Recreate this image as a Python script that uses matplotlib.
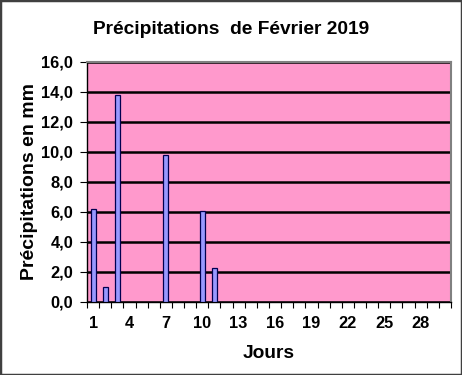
import matplotlib
matplotlib.use("Agg")
import matplotlib.pyplot as plt
from matplotlib.patches import Rectangle
import numpy as np

days = list(range(1, 31))
rain_days = [1, 2, 3, 7, 10, 11]
rain_values = [6.2, 1.0, 13.8, 9.8, 6.1, 2.3]
x_labels = [1, 4, 7, 10, 13, 16, 19, 22, 25, 28]
y_ticks = [0, 2, 4, 6, 8, 10, 12, 14, 16]

plt.rcParams['font.family'] = ['Liberation Sans', 'DejaVu Sans']
plt.rcParams['font.weight'] = 'bold'

fig = plt.figure(figsize=(4.62, 3.75), dpi=100)
fig.patch.set_facecolor('white')
fig.patches.append(Rectangle((0, 0), 1, 1, transform=fig.transFigure,
                             fill=False, edgecolor='#404040', linewidth=2.5))

ax = fig.add_axes([87/462, 1-302/375, (451-87)/462, (302-62)/375])
ax.set_facecolor('#FF99CC')
ax.set_axisbelow(True)
ax.yaxis.grid(True, color='black', linewidth=1.8)

ax.bar(rain_days, rain_values, width=0.42, color='#9999FF', edgecolor='#000050', linewidth=0.9, zorder=3)

ax.set_xlim(0.5, 30.5)
ax.set_ylim(0, 16)
ax.set_yticks(y_ticks)
ax.set_yticklabels([f"{v:.1f}".replace('.', ',') for v in y_ticks], fontsize=11.8, fontweight='bold')
ax.set_xticks(x_labels)
ax.set_xticklabels([str(v) for v in x_labels], fontsize=11.8, fontweight='bold')
ax.tick_params(axis='x', length=0, pad=10)
ax.set_xticks(np.arange(0.5, 31, 1), minor=True)
ax.tick_params(axis='x', which='minor', length=4, width=0.8, color='black', direction='out')
ax.tick_params(axis='y', length=5, width=0.8, direction='out', pad=5)

for s in ['top', 'right']:
    ax.spines[s].set_color('#808080')
    ax.spines[s].set_linewidth(1.5)
for s in ['left', 'bottom']:
    ax.spines[s].set_color('black')
    ax.spines[s].set_linewidth(1.0)

ax.set_xlabel('Jours', fontsize=13.8, fontweight='bold', labelpad=10)
ax.set_ylabel('Précipitations en mm', fontsize=14, fontweight='bold', labelpad=2)
fig.text(0.5 * (93 + 370) / 462, 1 - 29/375, 'Précipitations  de Février 2019',
         ha='center', va='center', fontsize=13.8, fontweight='bold')

fig.savefig('out.png', dpi=100)
